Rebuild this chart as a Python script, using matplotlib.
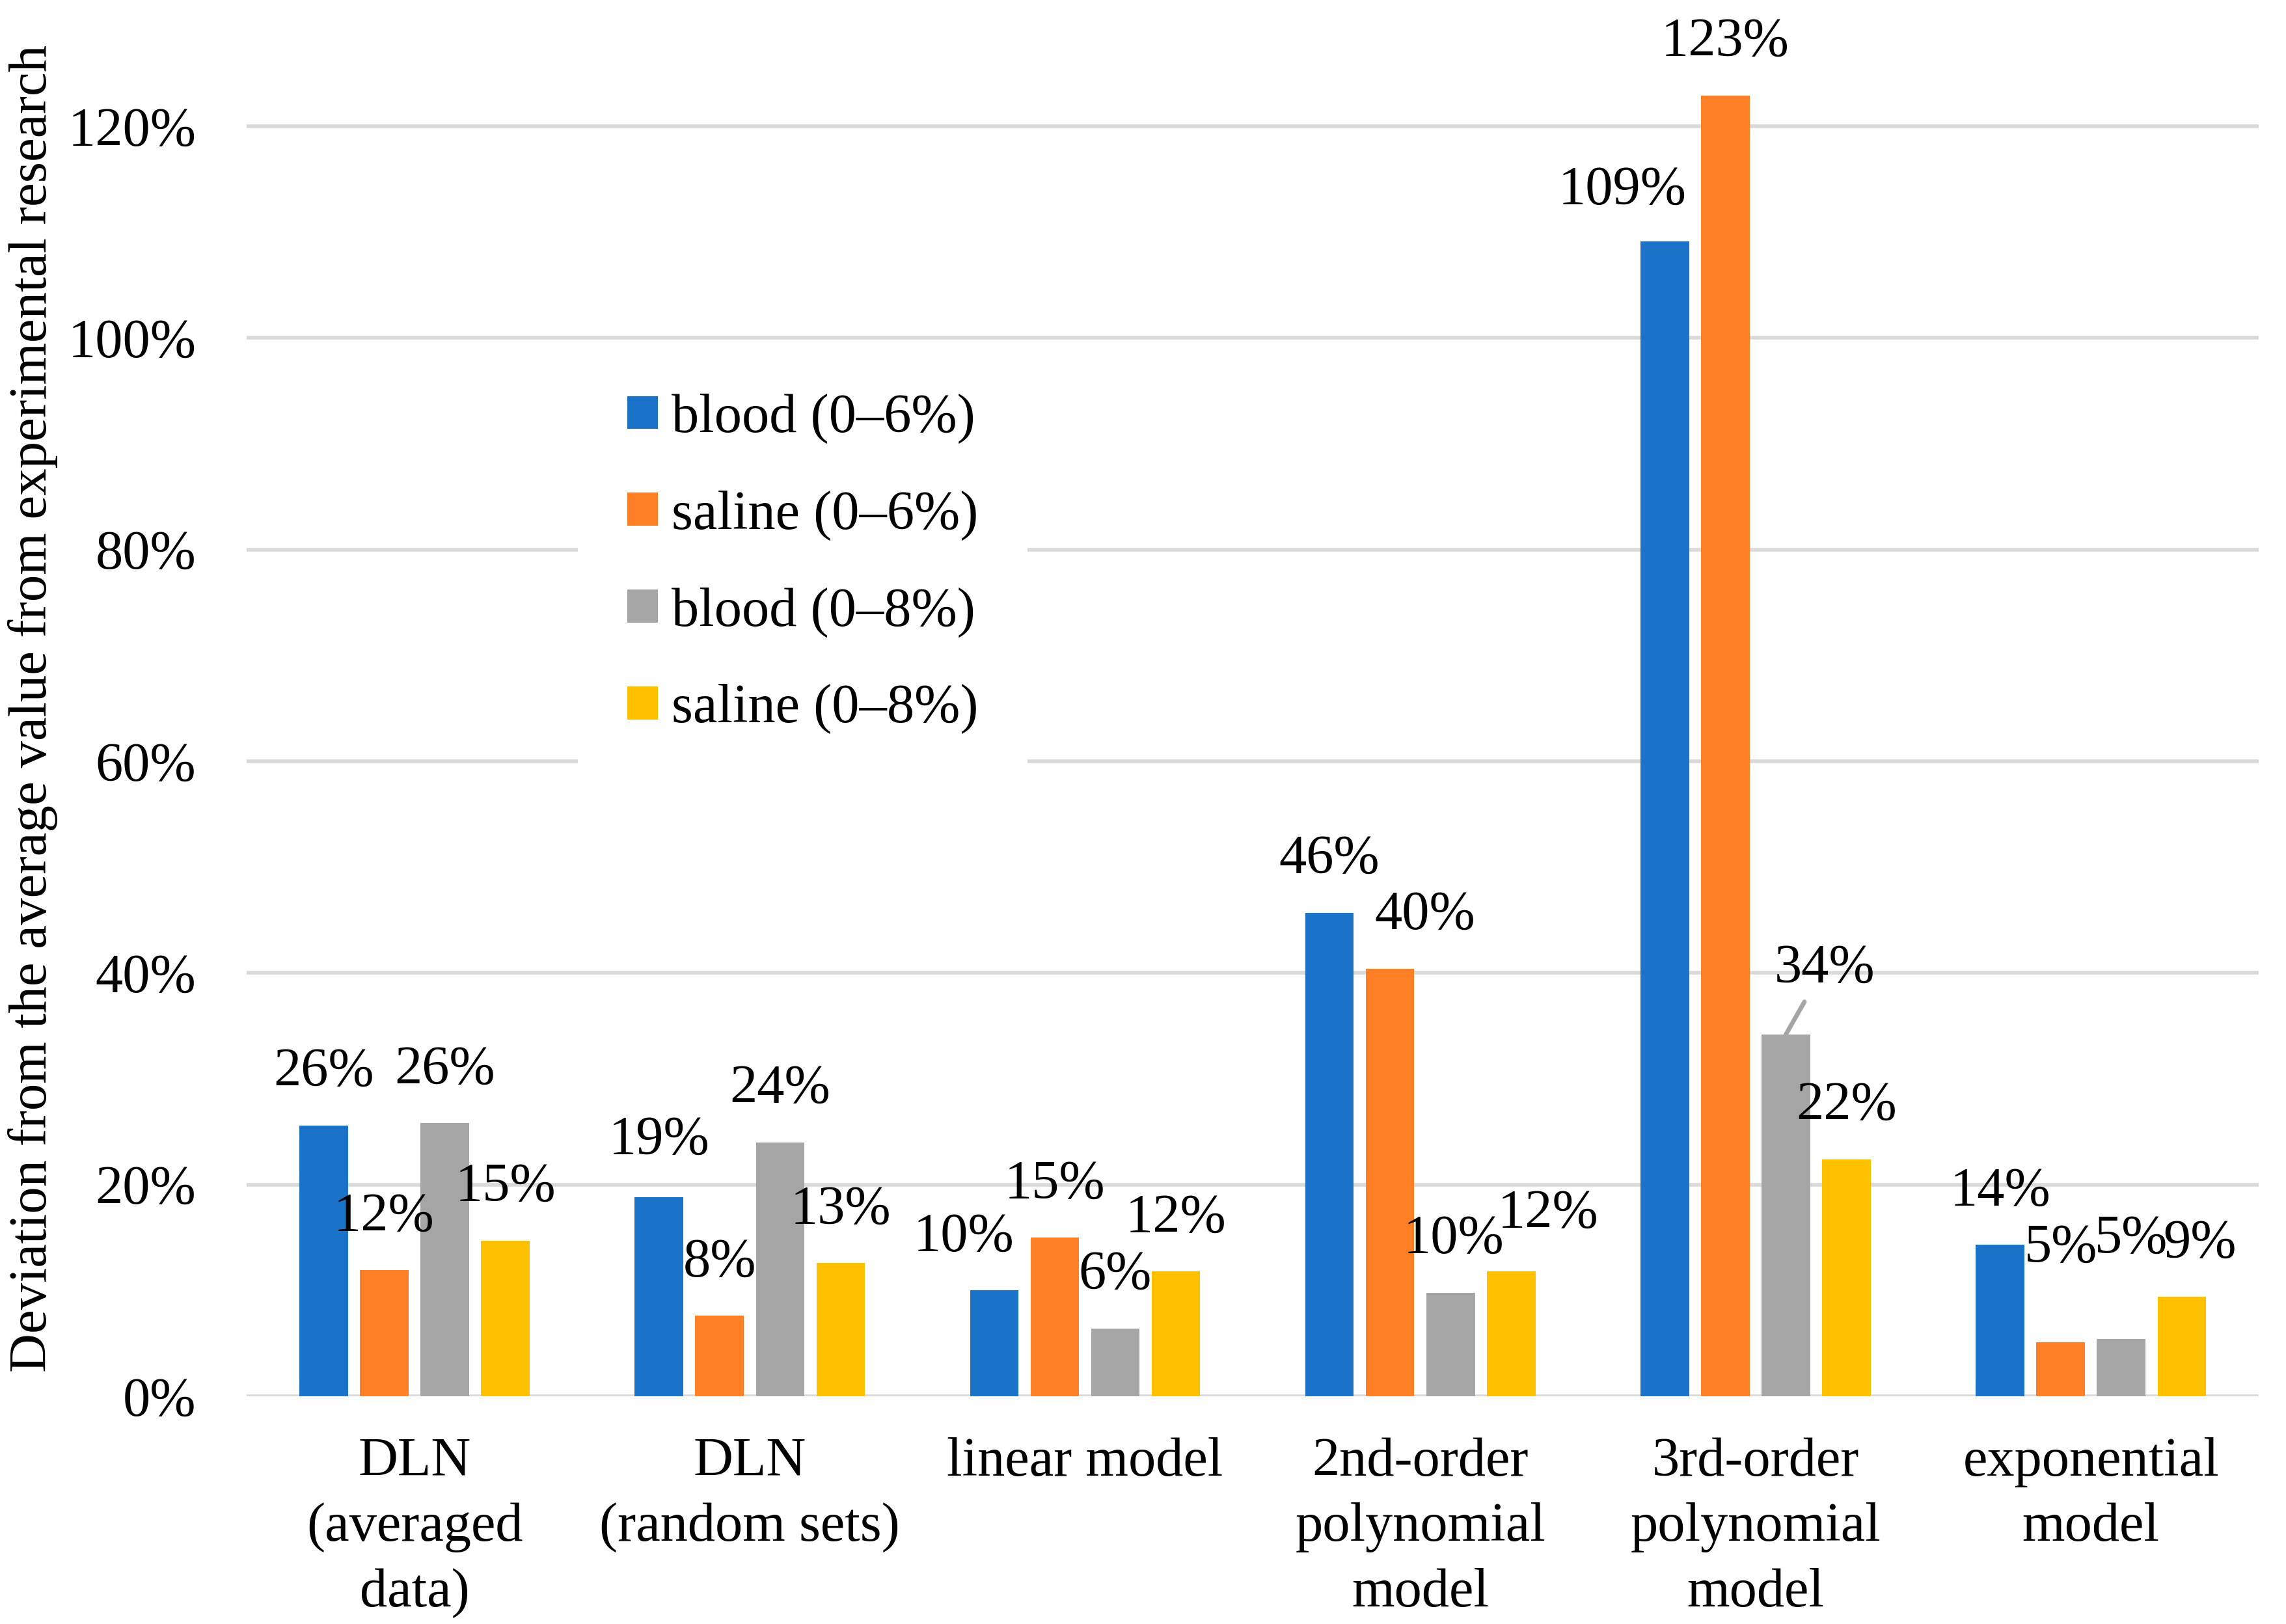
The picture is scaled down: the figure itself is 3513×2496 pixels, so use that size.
"""
Deviation of model predictions from the experimental average, grouped bars
"""
import matplotlib
matplotlib.use("Agg")
import matplotlib.pyplot as plt
from matplotlib.ticker import FuncFormatter
import numpy as np

categories = ["DLN\n(averaged\ndata)", "DLN\n(random sets)", "linear model",
              "2nd-order\npolynomial\nmodel", "3rd-order\npolynomial\nmodel",
              "exponential\nmodel"]
series_names = ["blood (0\u20136%)", "saline (0\u20136%)", "blood (0\u20138%)", "saline (0\u20138%)"]

# values in percent
blood_06 = [25.6, 18.8, 10.0, 45.7, 109.1, 14.3]
saline_06 = [11.9, 7.6, 15.0, 40.4, 122.9, 5.1]
blood_08 = [25.8, 24.0, 6.4, 9.8, 34.2, 5.4]
saline_08 = [14.7, 12.6, 11.8, 11.8, 22.4, 9.4]

colors = ["#1A73C8", "#FF7F27", "#A5A5A5", "#FFC000"]

# manual data-label shifts (points) where the labels were dragged in the original
label_shift = {
    (2, 0): (-15, 0), (3, 1): (17, 0), (3, 2): (1.5, 0), (3, 3): (18, 2),
    (4, 0): (-21, -1), (4, 2): (19, 6), (5, 1): (0, 20), (5, 2): (5, 23),
    (5, 3): (9, 0), (1, 0): (0, 2),
}

plt.rcParams["font.family"] = ["Liberation Serif", "DejaVu Serif"]
FS = 27

fig = plt.figure(figsize=(3513 / 225, 2496 / 225), dpi=225)
ax = fig.add_axes([0.108, 0.1402, 0.880, 0.8473])

x = np.arange(len(categories))
width = 0.1447
step = 0.1806
all_series = [blood_06, saline_06, blood_08, saline_08]

for j, vals in enumerate(all_series):
    pos = x + (j - 1.5) * step
    ax.bar(pos, vals, width, color=colors[j], label=series_names[j], zorder=3)
    for i, v in enumerate(vals):
        dx, dy = label_shift.get((i, j), (0, 0))
        txt = "{:d}%".format(int(round(v)))
        if (i, j) == (4, 2):
            ax.annotate(txt, xy=(pos[i], v), xytext=(dx, 26 + dy), textcoords="offset points",
                        ha="center", va="center", fontsize=FS, zorder=4,
                        arrowprops=dict(arrowstyle="-", color=colors[2], lw=2.2,
                                        relpos=(0.3, -0.15), shrinkA=0, shrinkB=0))
        else:
            ax.annotate(txt, xy=(pos[i], v), xytext=(dx, 26 + dy), textcoords="offset points",
                        ha="center", va="center", fontsize=FS, zorder=4)

ax.set_xlim(-0.5, len(categories) - 0.5)
ax.set_ylim(0, 130)
ax.set_yticks(np.arange(0, 121, 20))
ax.yaxis.set_major_formatter(FuncFormatter(lambda v, p: "{:d}%".format(int(v))))
ax.set_xticks(x)
ax.set_xticklabels(categories, fontsize=FS, linespacing=1.4)
ax.tick_params(axis="y", length=0, pad=25, labelsize=FS)
ax.tick_params(axis="x", length=0, pad=20)
ax.grid(axis="y", color="#D9D9D9", linewidth=1.8, zorder=0)
ax.set_axisbelow(True)
for s in ax.spines.values():
    s.set_visible(False)

ax.set_ylabel("Deviation from the average value from experimental research", fontsize=26.5)
ax.yaxis.set_label_coords(-0.094, 0.5)

leg = ax.legend(loc="center left", bbox_to_anchor=(0.151, 0.605), fontsize=FS,
                frameon=True, facecolor="white", edgecolor="none", framealpha=1,
                handlelength=0.55, handleheight=0.55, handletextpad=0.25,
                labelspacing=0.85, borderpad=0.9, fancybox=False)
leg.set_zorder(5)

fig.savefig("out.png", dpi=225)
